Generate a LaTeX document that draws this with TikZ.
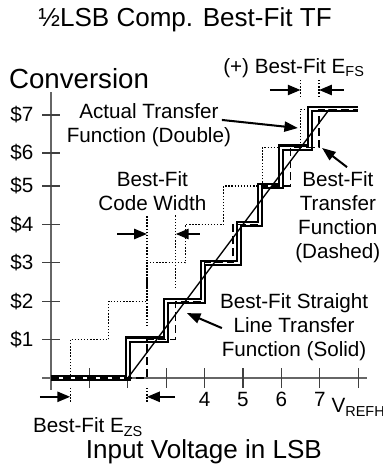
\documentclass[tikz,border=0pt]{standalone}
\usepackage{fontspec}
\setmainfont{Liberation Sans}
\usepackage{tikz}
\usetikzlibrary{arrows.meta}
\tikzstyle{axisline}=[draw=black!60,line width=1.1pt]
\tikzstyle{axistick}=[draw=black!75,line width=0.9pt]
\tikzstyle{ideal}=[draw,line width=1pt,dash pattern=on 1pt off 1.3pt]
\tikzstyle{actual}=[draw,line width=1.5pt,double,double distance=1.6pt]
\tikzstyle{bestfit}=[draw,line width=1pt,dash pattern=on 6pt off 3pt]
\tikzstyle{fitline}=[draw,line width=1pt]
\tikzstyle{extline}=[draw,line width=1pt,dash pattern=on 1pt off 1.3pt]
\tikzstyle{dimarrow}=[draw,line width=1.5pt,-{Triangle[length=9.5pt,width=7.5pt]}]
\tikzstyle{pointer}=[draw,line width=1.5pt,-{Triangle[length=10pt,width=7.5pt]}]
\tikzstyle{bigtext}=[font=\fontsize{19.3}{22}\selectfont,inner sep=0pt]
\tikzstyle{smalltext}=[font=\fontsize{15.3}{17.8}\selectfont,inner sep=0pt,align=center]

\begin{document}
\begin{tikzpicture}
    \useasboundingbox (-1.328,-2.292) rectangle (8.646,9.844);
    % Draw the axes and the ticks
    \path[axisline] (-0.23,0) -- (8.23,0);
    \path[axisline] (0,-0.3) -- (0,7.45);
    \foreach \y/\code in {1/1, 2/2, 3/3, 4/4, 5/5, 5.86/6, 6.85/7}
        \path[axistick] (-0.23,\y) -- (0.23,\y);
    \foreach \x in {1,...,8}
        \path[axistick] (\x,-0.26) -- (\x,0.26);
    % Axis labels
    \foreach \y/\code in {1/1, 2/2, 3/3, 4/4, 5/5, 5.86/6, 6.85/7}
        \node[smalltext,anchor=east] (code\code) at (-0.45,\y) {\$\code};
    \foreach \x in {4,...,7}
        \node[smalltext,anchor=north] (volt\x) at (\x,-0.37) {\x};
    \node[smalltext,anchor=base west] (vrefh) at (7.3,-0.91) {V\textsubscript{REFH}};
    \node[bigtext] (title) at (3.49,9.32) {½LSB Comp. Best-Fit TF};
    \node[bigtext,font=\fontsize{20.5}{24}\selectfont] (conversion) at (0.73,7.79) {Conversion};
    \node[bigtext] (input) at (3.98,-1.93) {Input Voltage in LSB};

    % Ideal transfer function (dotted)
    \path[ideal] (0,0) -| (0.5,1) -| (1.5,2) -| (2.5,3) -| (3.5,4) -| (4.5,5) -| (5.5,6) -| (6.5,7) -- (8,7);
    % Actual transfer function (double)
    \path[actual] (0,0) -| (2,1) -| (3,2) -| (3.95,3) -| (4.9,4) -| (5.45,5) -| (6,6) -| (6.75,7) -- (8,7);
    % Best-fit transfer function (dashed)
    \path[bestfit] (0,0) -| (2.5,1) -| (3.25,2) -| (4,3) -| (4.74,4) -| (5.49,5) -| (6.24,6) -| (6.98,7) -- (8,7);
    % Best-fit straight line (solid)
    \path[fitline] (2,0) -- (7.25,7);

    % Extension lines for the error widths
    \foreach \x/\ya/\yb in {0.5/-0.26/-0.65, 2.5/-0.26/-0.65, 2.5/1.35/4.24, 3.25/2.34/4.24, 6.5/7.32/7.78, 6.98/7.32/7.78}
        \path[extline] (\x,\ya) -- (\x,\yb);

    % Labels
    \node[smalltext] (actual) at (2.55,6.59) {Actual Transfer\\Function (Double)};
    \node[smalltext] (codewidth) at (2.64,4.86) {Best-Fit\\Code Width};
    \node[smalltext] (bestfit) at (7.47,4.19) {Best-Fit\\Transfer\\Function\\(Dashed)};
    \node[smalltext] (straight) at (6.33,1.33) {Best-Fit Straight\\Line Transfer\\Function (Solid)};
    \node[smalltext,anchor=base west] (ezs) at (-0.47,-1.43) {Best-Fit E\textsubscript{ZS}};
    \node[smalltext,anchor=base west] (efs) at (4.48,7.94) {(+) Best-Fit E\textsubscript{FS}};

    % Arrow ends
    \coordinate (zsL) at (-0.29,-0.49);
    \coordinate (zsLtip) at (0.5,-0.49);
    \coordinate (zsR) at (3.23,-0.49);
    \coordinate (zsRtip) at (2.5,-0.49);
    \coordinate (cwL) at (1.72,3.75);
    \coordinate (cwLtip) at (2.5,3.75);
    \coordinate (cwR) at (3.88,3.75);
    \coordinate (cwRtip) at (3.25,3.75);
    \coordinate (fsL) at (5.7,7.5);
    \coordinate (fsLtip) at (6.5,7.5);
    \coordinate (fsR) at (7.62,7.5);
    \coordinate (fsRtip) at (6.98,7.5);
    \coordinate (actualtail) at (4.45,6.72);
    \coordinate (actualtip) at (6.43,6.51);
    \coordinate (bestfittail) at (7.71,5.49);
    \coordinate (bestfittip) at (7.06,5.99);
    \coordinate (straighttail) at (4.45,1.30);
    \coordinate (straighttip) at (3.54,1.69);
    % Dimension arrows
    \path[dimarrow] (zsL) -- (zsLtip);
    \path[dimarrow] (zsR) -- (zsRtip);
    \path[dimarrow] (cwL) -- (cwLtip);
    \path[dimarrow] (cwR) -- (cwRtip);
    \path[dimarrow] (fsL) -- (fsLtip);
    \path[dimarrow] (fsR) -- (fsRtip);
    % Pointers from the labels
    \path[pointer] (actualtail) -- (actualtip);
    \path[pointer] (bestfittail) -- (bestfittip);
    \path[pointer] (straighttail) -- (straighttip);
\end{tikzpicture}
\end{document}
